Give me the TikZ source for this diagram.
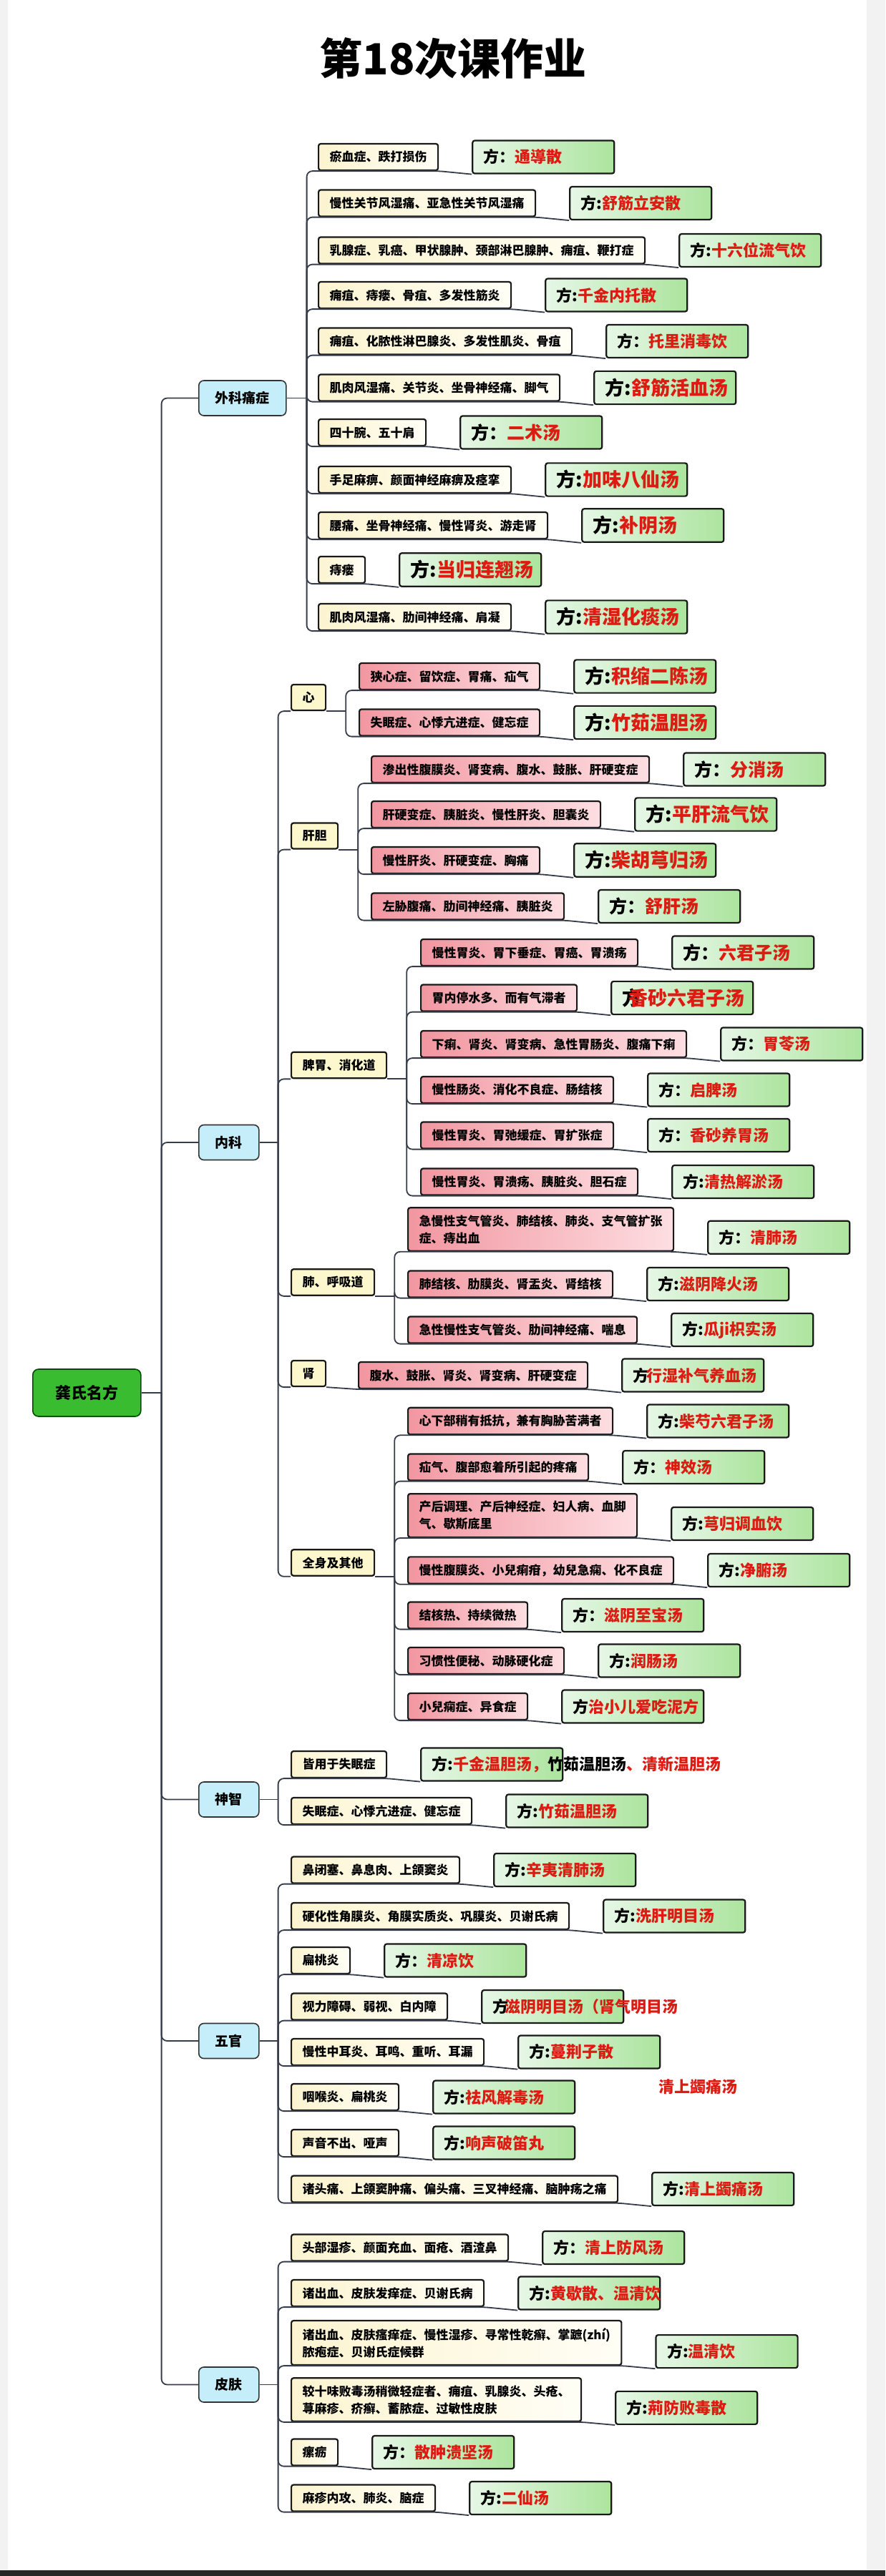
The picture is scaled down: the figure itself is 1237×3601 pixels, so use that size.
\documentclass[tikz,border=0pt]{standalone}
\usepackage{fontspec}
\newfontfamily\cjk{Noto Sans CJK SC}
\usepackage{tikz}
\usetikzlibrary{positioning}

\definecolor{linkc}{RGB}{55,60,75}
\definecolor{boxc}{RGB}{25,25,25}
\definecolor{fred}{RGB}{220,28,18}
\definecolor{fangL}{RGB}{230,247,230}
\definecolor{fangR}{RGB}{172,228,158}
\definecolor{creamL}{RGB}{252,244,208}
\definecolor{creamR}{RGB}{255,254,246}
\definecolor{pinkL}{RGB}{242,150,160}
\definecolor{pinkR}{RGB}{253,222,226}
\definecolor{organc}{RGB}{252,247,205}
\definecolor{blueb}{RGB}{198,238,250}
\definecolor{rootg}{RGB}{58,188,48}
\newcommand\yao[1]{\textcolor{fred}{#1}}

\begin{document}
\begin{tikzpicture}[x=1pt,y=-1pt]
    \tikzstyle{link}=[draw=linkc, line width=1.8pt, rounded corners=8pt]
    \tikzstyle{nodebox}=[draw=boxc, line width=2.2pt, rounded corners=3pt, inner xsep=15.5pt, inner ysep=10pt, minimum height=37pt, anchor=west]
    \tikzstyle{cond}=[nodebox, left color=creamL, right color=creamR, align=left, font=\cjk\bfseries\fontsize{17}{24}\selectfont]
    \tikzstyle{condn}=[cond, left color=pinkL, right color=pinkR]
    \tikzstyle{organ}=[nodebox, fill=organc, minimum height=36pt, font=\cjk\bfseries\fontsize{17}{24}\selectfont]
    \tikzstyle{kebox}=[nodebox, fill=blueb, draw=black!80, line width=1.6pt, rounded corners=7pt, inner xsep=23pt, minimum height=49pt, font=\cjk\bfseries\fontsize{19}{22}\selectfont]
    \tikzstyle{rootbox}=[nodebox, fill=rootg, draw=black!70!green, line width=1.6pt, rounded corners=8pt, inner xsep=31.5pt, minimum height=66pt, font=\cjk\bfseries\fontsize{22}{26}\selectfont]
    \tikzstyle{fang}=[nodebox, left color=fangL, right color=fangR, minimum height=46pt, text width=167pt, align=left, font=\cjk\bfseries\fontsize{22}{26}\selectfont]
    \tikzstyle{fangmid}=[fang, font=\cjk\bfseries\fontsize{25}{28}\selectfont]
    \tikzstyle{fangbig}=[fang, font=\cjk\bfseries\fontsize{27}{30}\selectfont]

    % page
    \fill[gray!10] (0,0) rectangle (1237,3601);
    \fill[white] (11,0) rectangle (1211,3592);
    \fill[black!85] (0,3593) rectangle (1237,3601);
    \useasboundingbox (0,0) rectangle (1237,3601);

    \node[font=\cjk\bfseries\fontsize{60}{60}\selectfont] (title) at (633,82) {第18次课作业};

    \node[rootbox] (gong) at (45,1947) {龚氏名方};
    \node[kebox] (waike) at (277,556.5) {外科痛症};
    \node[kebox] (neike) at (277,1597) {内科};
    \node[kebox] (shenzhi) at (277,2515.5) {神智};
    \node[kebox] (wuguan) at (277,2853) {五官};
    \node[kebox] (pifu) at (277,3333.5) {皮肤};

    % 外科痛症
    \node[cond] (wk1) at (444,219.5) {瘀血症、跌打损伤};
    \node[fang, right=46pt of wk1] (fwk1) {方：\yao{通導散}};
    \node[cond] (wk2) at (444,284) {慢性关节风湿痛、亚急性关节风湿痛};
    \node[fang, right=46pt of wk2] (fwk2) {方:\yao{舒筋立安散}};
    \node[cond] (wk3) at (444,350) {乳腺症、乳癌、甲状腺肿、颈部淋巴腺肿、痈疽、鞭打症};
    \node[fang, right=46pt of wk3] (fwk3) {方:\yao{十六位流气饮}};
    \node[cond] (wk4) at (444,412.5) {痈疽、痔瘘、骨疽、多发性筋炎};
    \node[fang, right=46pt of wk4] (fwk4) {方:\yao{千金内托散}};
    \node[cond] (wk5) at (444,477) {痈疽、化脓性淋巴腺炎、多发性肌炎、骨疽};
    \node[fang, right=46pt of wk5] (fwk5) {方：\yao{托里消毒饮}};
    \node[cond] (wk6) at (444,542) {肌肉风湿痛、关节炎、坐骨神经痛、脚气};
    \node[fangbig, right=46pt of wk6] (fwk6) {方:\yao{舒筋活血汤}};
    \node[cond] (wk7) at (444,604.5) {四十腕、五十肩};
    \node[fangmid, right=46pt of wk7] (fwk7) {方：\yao{二术汤}};
    \node[cond] (wk8) at (444,670.5) {手足麻痹、颜面神经麻痹及痉挛};
    \node[fangbig, right=46pt of wk8] (fwk8) {方:\yao{加味八仙汤}};
    \node[cond] (wk9) at (444,734.5) {腰痛、坐骨神经痛、慢性肾炎、游走肾};
    \node[fangbig, right=46pt of wk9] (fwk9) {方:\yao{补阴汤}};
    \node[cond] (wk10) at (444,796.5) {痔瘘};
    \node[fangbig, right=46pt of wk10] (fwk10) {方:\yao{当归连翘汤}};
    \node[cond] (wk11) at (444,862.5) {肌肉风湿痛、肋间神经痛、肩凝};
    \node[fangbig, right=46pt of wk11] (fwk11) {方:\yao{清湿化痰汤}};

    % 内科
    \node[organ] (xin) at (406,975) {心};
    \node[organ] (gandan) at (406,1168.5) {肝胆};
    \node[organ] (piwei) at (406,1489) {脾胃、消化道};
    \node[organ] (fei) at (406,1792.5) {肺、呼吸道};
    \node[organ] (shen) at (406,1920) {肾};
    \node[organ] (quanshen) at (406,2184.5) {全身及其他};

    \node[condn] (xin1) at (501,945.5) {狭心症、留饮症、胃痛、疝气};
    \node[fangbig, right=46pt of xin1] (fxin1) {方:\yao{积缩二陈汤}};
    \node[condn] (xin2) at (501,1010) {失眠症、心悸亢进症、健忘症};
    \node[fangbig, right=46pt of xin2] (fxin2) {方:\yao{竹茹温胆汤}};

    \node[condn] (gd1) at (518,1075.5) {渗出性腹膜炎、肾变病、腹水、鼓胀、肝硬变症};
    \node[fangmid, right=46pt of gd1] (fgd1) {方：\yao{分消汤}};
    \node[condn] (gd2) at (518,1138.5) {肝硬变症、胰脏炎、慢性肝炎、胆囊炎};
    \node[fangbig, right=46pt of gd2] (fgd2) {方:\yao{平肝流气饮}};
    \node[condn] (gd3) at (518,1202.5) {慢性肝炎、肝硬变症、胸痛};
    \node[fangbig, right=46pt of gd3] (fgd3) {方:\yao{柴胡芎归汤}};
    \node[condn] (gd4) at (518,1267) {左胁腹痛、肋间神经痛、胰脏炎};
    \node[fangmid, right=46pt of gd4] (fgd4) {方：\yao{舒肝汤}};

    \node[condn] (pw1) at (587,1331.5) {慢性胃炎、胃下垂症、胃癌、胃溃疡};
    \node[fangmid, right=46pt of pw1] (fpw1) {方：\yao{六君子汤}};
    \node[condn] (pw2) at (587,1395) {胃内停水多、而有气滞者};
    \node[fangbig, right=46pt of pw2] (fpw2) {方\kern-18pt\yao{香砂六君子汤}};
    \node[condn] (pw3) at (587,1459.5) {下痢、肾炎、肾变病、急性胃肠炎、腹痛下痢};
    \node[fang, right=46pt of pw3] (fpw3) {方：\yao{胃苓汤}};
    \node[condn] (pw4) at (587,1523.5) {慢性肠炎、消化不良症、肠结核};
    \node[fang, right=46pt of pw4] (fpw4) {方：\yao{启脾汤}};
    \node[condn] (pw5) at (587,1587) {慢性胃炎、胃弛缓症、胃扩张症};
    \node[fang, right=46pt of pw5] (fpw5) {方：\yao{香砂养胃汤}};
    \node[condn] (pw6) at (587,1652) {慢性胃炎、胃溃疡、胰脏炎、胆石症};
    \node[fang, right=46pt of pw6] (fpw6) {方:\yao{清热解淤汤}};

    \node[condn] (fei1) at (569,1718.5) {急慢性支气管炎、肺结核、肺炎、支气管扩张\\症、痔出血};
    \node[fang, right=46pt of fei1.south east, yshift=20pt] (ffei1) {方：\yao{清肺汤}};
    \node[condn] (fei2) at (569,1795) {肺结核、肋膜炎、肾盂炎、肾结核};
    \node[fang, right=46pt of fei2] (ffei2) {方:\yao{滋阴降火汤}};
    \node[condn] (fei3) at (569,1859) {急性慢性支气管炎、肋间神经痛、喘息};
    \node[fang, right=46pt of fei3] (ffei3) {方:\yao{瓜ji枳实汤}};

    \node[condn] (shen1) at (500,1922.5) {腹水、鼓胀、肾炎、肾变病、肝硬变症};
    \node[fang, right=46pt of shen1] (fshen1) {方\kern-3pt\yao{行湿补气养血汤}};

    \node[condn] (qs1) at (569,1986.5) {心下部稍有抵抗，兼有胸胁苦满者};
    \node[fang, right=46pt of qs1] (fqs1) {方:\yao{柴芍六君子汤}};
    \node[condn] (qs2) at (569,2051) {疝气、腹部愈着所引起的疼痛};
    \node[fang, right=46pt of qs2] (fqs2) {方：\yao{神效汤}};
    \node[condn] (qs3) at (569,2118.5) {产后调理、产后神经症、妇人病、血脚\\气、歇斯底里};
    \node[fang, right=46pt of qs3.south east, yshift=20pt] (fqs3) {方:\yao{芎归调血饮}};
    \node[condn] (qs4) at (569,2195) {慢性腹膜炎、小兒痢疳，幼兒急痫、化不良症};
    \node[fang, right=46pt of qs4] (fqs4) {方:\yao{净腑汤}};
    \node[condn] (qs5) at (569,2258) {结核热、持续微热};
    \node[fang, right=46pt of qs5] (fqs5) {方：\yao{滋阴至宝汤}};
    \node[condn] (qs6) at (569,2321.5) {习惯性便秘、动脉硬化症};
    \node[fang, right=46pt of qs6] (fqs6) {方:\yao{润肠汤}};
    \node[condn] (qs7) at (569,2385.5) {小兒痫症、异食症};
    \node[fang, right=46pt of qs7] (fqs7) {方\yao{治小儿爱吃泥方}};

    % 神智
    \node[cond] (sz1) at (406,2466.5) {皆用于失眠症};
    \node[fang, right=46pt of sz1] (fsz1) {方:\yao{千金温胆汤，}竹茹温胆汤\yao{、清新温胆汤}};
    \node[cond] (sz2) at (406,2531.5) {失眠症、心悸亢进症、健忘症};
    \node[fang, right=46pt of sz2] (fsz2) {方:\yao{竹茹温胆汤}};

    % 五官
    \node[cond] (wg1) at (406,2614) {鼻闭塞、鼻息肉、上颌窦炎};
    \node[fang, right=46pt of wg1] (fwg1) {方:\yao{辛夷清肺汤}};
    \node[cond] (wg2) at (406,2678.5) {硬化性角膜炎、角膜实质炎、巩膜炎、贝谢氏病};
    \node[fang, right=46pt of wg2] (fwg2) {方:\yao{洗肝明目汤}};
    \node[cond] (wg3) at (406,2740.5) {扁桃炎};
    \node[fang, right=46pt of wg3] (fwg3) {方：\yao{清凉饮}};
    \node[cond] (wg4) at (406,2805) {视力障碍、弱视、白内障};
    \node[fang, right=46pt of wg4] (fwg4) {方\kern-5pt\yao{滋阴明目汤（肾气明目汤}};
    \node[cond] (wg5) at (406,2868.5) {慢性中耳炎、耳鸣、重听、耳漏};
    \node[fang, right=46pt of wg5] (fwg5) {方:\yao{蔓荆子散}};
    \node[cond] (wg6) at (406,2931.5) {咽喉炎、扁桃炎};
    \node[fang, right=46pt of wg6] (fwg6) {方:\yao{祛风解毒汤}};
    \node[cond] (wg7) at (406,2995.5) {声音不出、哑声};
    \node[fang, right=46pt of wg7] (fwg7) {方:\yao{响声破笛丸}};
    \node[cond] (wg8) at (406,3060) {诸头痛、上颌窦肿痛、偏头痛、三叉神经痛、脑肿疡之痛};
    \node[fang, right=46pt of wg8] (fwg8) {方:\yao{清上蠲痛汤}};
    \node[font=\cjk\bfseries\fontsize{22}{26}\selectfont, text=fred] (wgnote) at (975,2917) {清上蠲痛汤};

    % 皮肤
    \node[cond] (pf1) at (406,3142) {头部湿疹、颜面充血、面疮、酒渣鼻};
    \node[fang, right=46pt of pf1] (fpf1) {方：\yao{清上防风汤}};
    \node[cond] (pf2) at (406,3205.5) {诸出血、皮肤发痒症、贝谢氏病};
    \node[fang, right=46pt of pf2] (fpf2) {方:\yao{黄歇散、温清饮}};
    \node[cond] (pf3) at (406,3275) {诸出血、皮肤瘙痒症、慢性湿疹、寻常性乾癣、掌蹠(zhí)\\脓疱症、贝谢氏症候群};
    \node[fang, right=46pt of pf3.south east, yshift=20pt] (fpf3) {方:\yao{温清饮}};
    \node[cond] (pf4) at (406,3354.5) {较十味败毒汤稍微轻症者、痈疽、乳腺炎、头疮、\\荨麻疹、疥癣、蓄脓症、过敏性皮肤};
    \node[fang, right=46pt of pf4.south east, yshift=20pt] (fpf4) {方:\yao{荊防败毒散}};
    \node[cond] (pf5) at (406,3428) {瘰疬};
    \node[fang, right=46pt of pf5] (fpf5) {方：\yao{散肿溃坚汤}};
    \node[cond] (pf6) at (406,3492) {麻疹内攻、肺炎、脑症};
    \node[fang, right=46pt of pf6] (fpf6) {方:\yao{二仙汤}};

    % junctions
    \coordinate[right=28pt of gong] (jgong);
    \coordinate[right=28pt of waike] (jwaike);
    \coordinate[right=26pt of neike] (jneike);
    \coordinate[right=26pt of shenzhi] (jshenzhi);
    \coordinate[right=26pt of wuguan] (jwuguan);
    \coordinate[right=26pt of pifu] (jpifu);
    \coordinate[right=27pt of xin.south east] (jxin);
    \coordinate[right=27pt of gandan.south east] (jgandan);
    \coordinate[right=27pt of piwei.south east] (jpiwei);
    \coordinate[right=27pt of fei.south east] (jfei);
    \coordinate[right=27pt of quanshen.south east] (jquanshen);

    % links
    \draw[link] (gong) -- (jgong);
    \foreach \k in {waike,neike,shenzhi,wuguan,pifu}
        \draw[link] (jgong) |- (\k.west);
    \foreach \k in {waike,neike,shenzhi,wuguan,pifu}
        \draw[link] (\k) -- (j\k);
    \foreach \i in {1,...,11}
        \draw[link] (jwaike) |- (wk\i.south west) -- (wk\i.south east) -- (fwk\i.south west);
    \foreach \k in {xin,gandan,piwei,fei,shen,quanshen}
        \draw[link] (jneike) |- (\k.south west);
    \foreach \k in {xin,gandan,piwei,fei,quanshen}
        \draw[link] (\k.south east) -- (j\k);
    \foreach \i in {1,2}
        \draw[link] (jxin) |- (xin\i.south west) -- (xin\i.south east) -- (fxin\i.south west);
    \foreach \i in {1,...,4}
        \draw[link] (jgandan) |- (gd\i.south west) -- (gd\i.south east) -- (fgd\i.south west);
    \foreach \i in {1,...,6}
        \draw[link] (jpiwei) |- (pw\i.south west) -- (pw\i.south east) -- (fpw\i.south west);
    \foreach \i in {1,2,3}
        \draw[link] (jfei) |- (fei\i.south west) -- (fei\i.south east) -- (ffei\i.south west);
    \draw[link] (shen.south east) -- (shen1.south west) -- (shen1.south east) -- (fshen1.south west);
    \foreach \i in {1,...,7}
        \draw[link] (jquanshen) |- (qs\i.south west) -- (qs\i.south east) -- (fqs\i.south west);
    \foreach \i in {1,2}
        \draw[link] (jshenzhi) |- (sz\i.south west) -- (sz\i.south east) -- (fsz\i.south west);
    \foreach \i in {1,...,8}
        \draw[link] (jwuguan) |- (wg\i.south west) -- (wg\i.south east) -- (fwg\i.south west);
    \foreach \i in {1,...,6}
        \draw[link] (jpifu) |- (pf\i.south west) -- (pf\i.south east) -- (fpf\i.south west);
\end{tikzpicture}
\end{document}
